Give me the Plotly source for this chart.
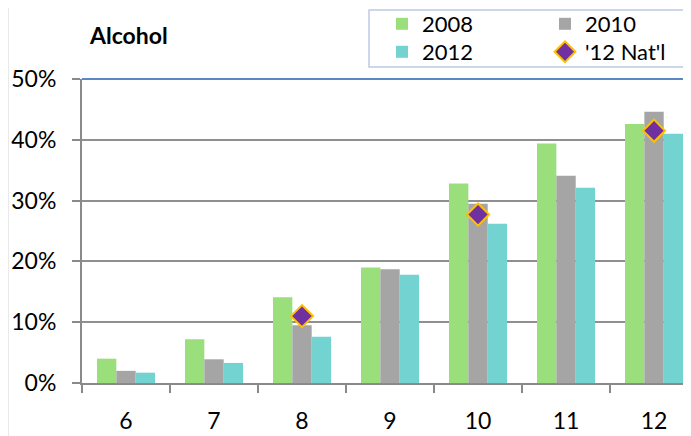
import plotly.graph_objects as go

grades = ["6", "7", "8", "9", "10", "11", "12"]
y2008 = [4.0, 7.2, 14.1, 19.0, 32.8, 39.4, 42.6]
y2010 = [2.0, 3.9, 9.5, 18.7, 29.5, 34.1, 44.6]
y2012 = [1.7, 3.3, 7.6, 17.8, 26.2, 32.1, 41.0]
nat_grades = ["8", "10", "12"]
nat2012 = [11.0, 27.7, 41.5]
yticks = [0, 10, 20, 30, 40, 50]
ytick_labels = ["0%", "10%", "20%", "30%", "40%", "50%"]

# page is drawn with an 8px body offset; screen-pixel helpers below
OFF = 8
W, H = 691 - OFF, 436 - OFF
SL, ST, SB = 82, 79, 383          # plot-area edges on screen
L, T = SL - OFF, ST - OFF
B = H - (SB - OFF)
PW, PH = 691 - SL, SB - ST
def px(x):
    return (x - SL) / PW
def py(y):
    return (SB - y) / PH

FONT = "Lato"
fig = go.Figure()
fig.add_trace(go.Bar(name="2008", x=grades, y=y2008, marker=dict(color="#9BDF7D", line=dict(width=0)), legend="legend"))
fig.add_trace(go.Bar(name="2010", x=grades, y=y2010, marker=dict(color="#A5A5A5", line=dict(width=0)), legend="legend2"))
fig.add_trace(go.Bar(name="2012", x=grades, y=y2012, marker=dict(color="#72D3D0", line=dict(width=0)), legend="legend3"))
fig.add_trace(go.Scatter(name="'12 Nat'l", x=nat_grades, y=nat2012, mode="markers",
                         marker=dict(symbol="diamond", size=17, color="#7030A0",
                                     line=dict(color="#FFC000", width=2)), legend="legend4"))

def leg(xs, ys):
    return dict(x=px(xs), y=py(ys), xanchor="left", yanchor="middle", bgcolor="rgba(0,0,0,0)",
                font=dict(size=22), orientation="v")

fig.update_layout(
    width=W, height=H,
    margin=dict(l=L, r=0, t=T, b=B, autoexpand=False),
    paper_bgcolor="white", plot_bgcolor="white",
    barmode="group", bargap=0.34, bargroupgap=0,
    font=dict(family=FONT, size=22, color="black"),
    xaxis=dict(type="category", range=[-0.5, 6.42], showgrid=False, showline=True, automargin=False,
               linecolor="#8a8a8a", linewidth=2, ticks="outside", tickson="boundaries",
               ticklen=8, tickwidth=2, tickcolor="#8a8a8a", ticklabelstandoff=16,
               tickfont=dict(size=23)),
    yaxis=dict(range=[0, 50], tickvals=yticks, ticktext=ytick_labels, showgrid=True, automargin=False,
               gridcolor="#8f8f8f", gridwidth=2, showline=True, linecolor="#8a8a8a",
               linewidth=2, ticks="outside", ticklen=8, tickwidth=2, tickcolor="#8a8a8a",
               ticklabelstandoff=11, zeroline=False, tickfont=dict(size=23)),
    showlegend=True,
    legend=leg(382, 24),
    legend2=leg(545, 24),
    legend3=leg(382, 52),
    legend4=leg(545, 52),
    annotations=[
        dict(text="<b>Alcohol</b>", xref="paper", yref="paper", x=px(87), y=py(35),
             xanchor="left", yanchor="middle", showarrow=False,
             font=dict(family=FONT, size=23, color="black")),
    ],
    shapes=[
        dict(type="line", xref="paper", yref="paper", x0=0, x1=1.02, y0=1, y1=1,
             line=dict(color="#5b87c4", width=2)),
        dict(type="rect", xref="paper", yref="paper", x0=px(369), x1=px(700), y0=py(67), y1=py(10),
             line=dict(color="#bccbe2", width=1.5)),
        dict(type="rect", xref="paper", yref="paper", x0=px(7.5), x1=px(700), y0=py(450), y1=py(6.5),
             line=dict(color="#a6a6a6", width=1.5)),
    ],
)

fig.write_html("out.html")
